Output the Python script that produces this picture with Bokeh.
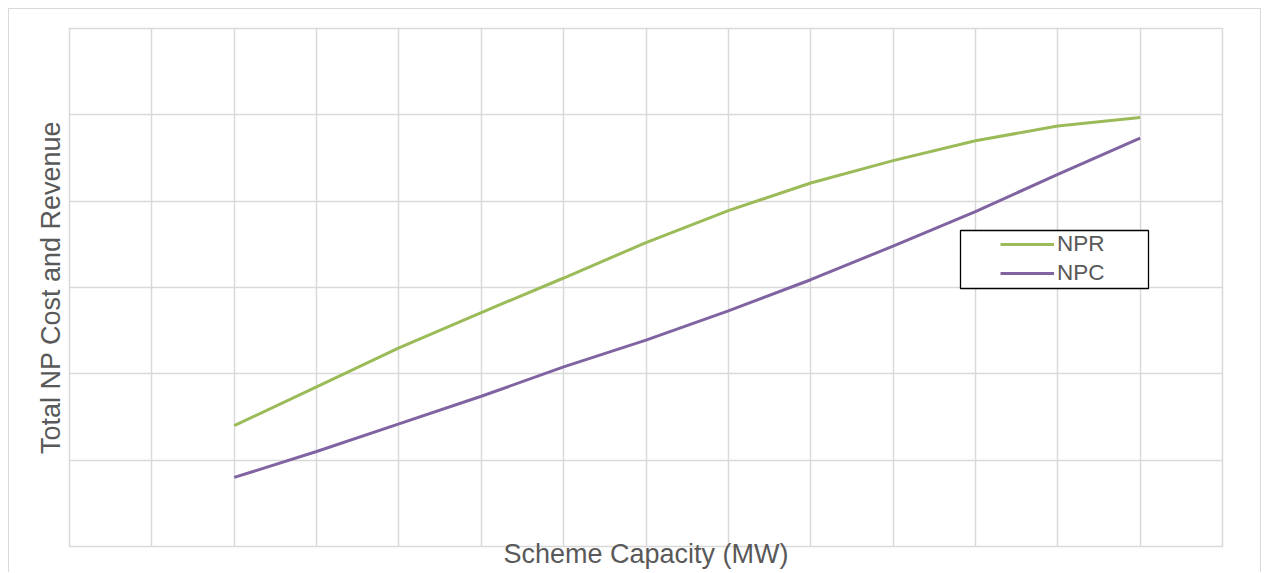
from bokeh.plotting import figure
from bokeh.models import Range1d, FixedTicker, Legend, LegendItem, BoxAnnotation
from bokeh.embed import file_html
from bokeh.resources import INLINE

# ---- data ----
capacity = [2, 3, 4, 5, 6, 7, 8, 9, 10, 11, 12, 13]
npr = [1.40, 1.85, 2.30, 2.71, 3.11, 3.52, 3.89, 4.21, 4.47, 4.70, 4.87, 4.97]
npc = [0.80, 1.10, 1.42, 1.74, 2.08, 2.39, 2.73, 3.09, 3.48, 3.88, 4.31, 4.73]
x_ticks = list(range(0, 15))
y_ticks = list(range(0, 7))
series_names = ["NPR", "NPC"]
x_title = "Scheme Capacity (MW)"
y_title = "Total NP Cost and Revenue"

FONT = "Liberation Sans"
TXT = "#595959"
GRID = "#d9d9d9"

p = figure(width=1253, height=564, output_backend="svg", toolbar_location=None,
           x_range=Range1d(0, 14), y_range=Range1d(0, 6),
           min_border_left=60, min_border_right=40, min_border_top=19,
           min_border_bottom=27)
p.margin = (8, 0, 0, 8)
p.styles = {"border-top": "1px solid #d9d9d9",
            "border-left": "1px solid #d9d9d9",
            "border-right": "1px solid #d9d9d9"}
p.background_fill_color = "white"
p.border_fill_color = "white"
p.outline_line_color = GRID
p.outline_line_width = 1.5

for ax in (p.xaxis, p.yaxis):
    ax.ticker = FixedTicker(ticks=[])
    ax.major_tick_line_color = None
    ax.minor_tick_line_color = None
    ax.axis_line_color = None
    ax.major_label_standoff = 0
    ax.major_tick_out = 0
    ax.axis_label_text_font = FONT
    ax.axis_label_text_font_size = "27px"
    ax.axis_label_text_font_style = "normal"
    ax.axis_label_text_color = TXT

p.xaxis.axis_label = x_title
p.yaxis.axis_label = y_title
p.xaxis.axis_label_standoff = -8
p.yaxis.axis_label_standoff = 4

p.xgrid.ticker = FixedTicker(ticks=x_ticks)
p.ygrid.ticker = FixedTicker(ticks=y_ticks)
for g in (p.xgrid, p.ygrid):
    g.grid_line_color = GRID
    g.grid_line_width = 1.5

r1 = p.line(capacity, npr, line_color="#9bbb59", line_width=3)
r2 = p.line(capacity, npc, line_color="#8064a2", line_width=3)

box = BoxAnnotation(left=950, right=1138, top=220, bottom=278,
                    left_units="canvas", right_units="canvas",
                    top_units="canvas", bottom_units="canvas",
                    fill_color="white", fill_alpha=1, line_color="black",
                    line_alpha=1, line_width=1.3)
p.add_layout(box)

legend = Legend(items=[LegendItem(label=series_names[0], renderers=[r1]),
                       LegendItem(label=series_names[1], renderers=[r2])],
                location=(925, 254), padding=6, spacing=3,
                glyph_width=54, glyph_height=24, label_height=24,
                label_standoff=3, label_text_font_size="22.5px",
                label_text_color=TXT, label_text_font=FONT,
                border_line_alpha=0, background_fill_alpha=0)
p.add_layout(legend, "center")

open("out.html", "w").write(file_html(p, INLINE))
